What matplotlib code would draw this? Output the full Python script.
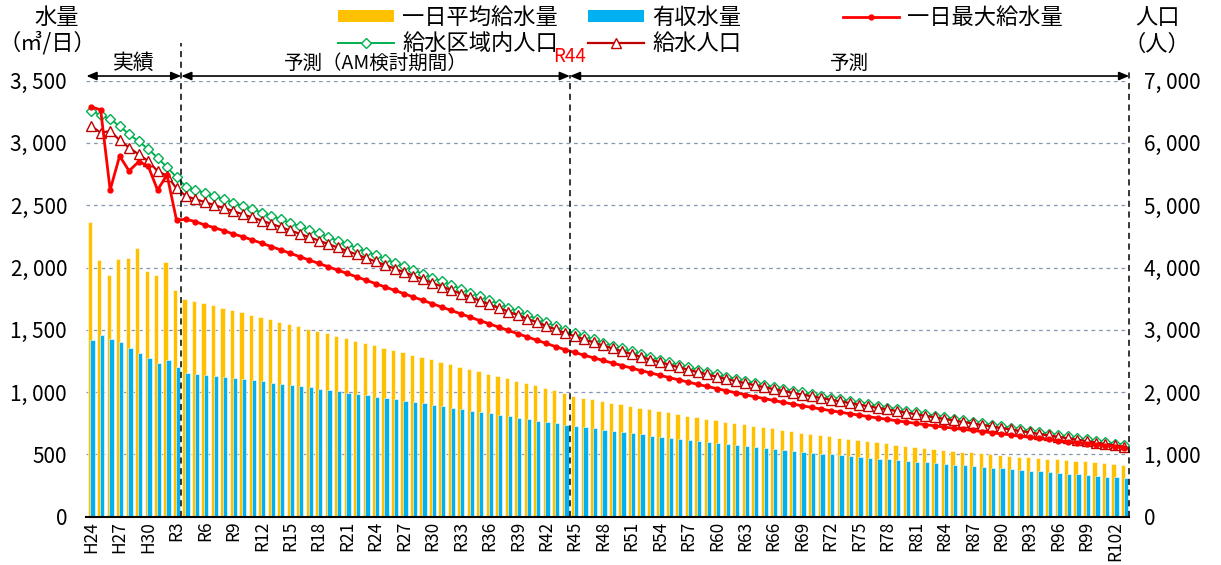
import numpy as np
import matplotlib.pyplot as plt
from matplotlib.lines import Line2D
from matplotlib.patches import Patch

plt.rcParams['font.family'] = ['Noto Sans CJK JP', 'DejaVu Sans']

# 年度 (H24〜R103)
years = ['H24', 'H25', 'H26', 'H27', 'H28', 'H29', 'H30'] + ['R%d' % n for n in range(1, 104)]

# 一日平均給水量 (m3/日)
avg_supply = [2368, 2063, 1940, 2071, 2074, 2159, 1974, 1940, 2044, 1820,
              1747, 1731, 1713, 1697, 1678, 1659, 1640, 1621, 1603, 1585,
              1566, 1547, 1528, 1509, 1490, 1471, 1452, 1433, 1414, 1395,
              1376, 1357, 1338, 1319, 1300, 1281, 1262, 1243, 1224, 1205,
              1186, 1167, 1148, 1129, 1110, 1091, 1072, 1053, 1034, 1015,
              996, 969, 955, 942, 929, 913, 901, 888, 875, 862,
              849, 837, 824, 812, 800, 788, 776, 764, 753, 741,
              730, 719, 708, 697, 686, 675, 665, 655, 645, 635,
              625, 615, 606, 597, 588, 579, 570, 562, 554, 546,
              538, 530, 523, 516, 509, 502, 495, 489, 483, 477,
              471, 465, 460, 454, 449, 443, 436, 428, 420, 412]

# 有収水量 (m3/日)
billed = [1416, 1458, 1426, 1402, 1354, 1316, 1271, 1231, 1255, 1199,
          1156, 1145, 1137, 1132, 1124, 1113, 1103, 1097, 1087, 1077,
          1067, 1057, 1047, 1037, 1027, 1017, 1007, 996, 986, 975,
          964, 953, 942, 931, 920, 909, 897, 886, 875, 864,
          852, 841, 829, 818, 806, 795, 783, 772, 760, 749,
          738, 728, 718, 708, 698, 688, 678, 669, 660, 651,
          642, 633, 624, 615, 606, 598, 590, 582, 574, 566,
          558, 550, 542, 535, 528, 521, 514, 507, 500, 493,
          486, 479, 472, 466, 460, 454, 448, 442, 436, 430,
          424, 418, 412, 406, 400, 394, 388, 382, 376, 370,
          364, 358, 352, 346, 340, 334, 328, 322, 316, 310]

# 一日最大給水量 (m3/日)
max_supply = [3290, 3265, 2622, 2895, 2775, 2849, 2817, 2622, 2743, 2381,
              2387, 2368, 2341, 2320, 2295, 2269, 2247, 2221, 2195, 2168,
              2141, 2114, 2087, 2060, 2033, 2006, 1979, 1952, 1925, 1898,
              1871, 1844, 1817, 1790, 1763, 1736, 1709, 1682, 1655, 1628,
              1601, 1574, 1548, 1521, 1495, 1469, 1443, 1417, 1391, 1365,
              1340, 1318, 1296, 1275, 1254, 1233, 1213, 1193, 1173, 1154,
              1135, 1116, 1098, 1080, 1062, 1045, 1028, 1011, 995, 979,
              963, 948, 933, 918, 904, 890, 877, 864, 851, 839,
              827, 815, 803, 792, 781, 770, 759, 749, 739, 729,
              719, 710, 701, 692, 683, 674, 665, 656, 647, 638,
              629, 620, 611, 603, 595, 587, 579, 571, 563, 555]

# 給水区域内人口 (人)
area_pop = [6516, 6447, 6383, 6270, 6140, 6025, 5905, 5760, 5610, 5450,
            5297, 5244, 5195, 5145, 5095, 5043, 4990, 4937, 4883, 4829,
            4774, 4718, 4662, 4605, 4548, 4490, 4432, 4374, 4315, 4256,
            4197, 4138, 4078, 4018, 3958, 3898, 3838, 3778, 3718, 3658,
            3598, 3538, 3478, 3418, 3358, 3298, 3238, 3178, 3118, 3058,
            2998, 2946, 2895, 2845, 2796, 2748, 2701, 2655, 2610, 2566,
            2523, 2481, 2440, 2400, 2361, 2323, 2286, 2250, 2215, 2181,
            2148, 2116, 2085, 2055, 2025, 1996, 1968, 1940, 1912, 1885,
            1858, 1831, 1804, 1778, 1752, 1726, 1700, 1674, 1649, 1624,
            1599, 1574, 1549, 1525, 1501, 1477, 1453, 1429, 1405, 1381,
            1357, 1334, 1311, 1288, 1265, 1242, 1219, 1196, 1173, 1150]

# 給水人口 (人)
served_pop = [6271, 6164, 6190, 6046, 5923, 5817, 5709, 5548, 5473, 5271,
              5147, 5096, 5050, 5002, 4955, 4905, 4855, 4804, 4753, 4701,
              4649, 4595, 4542, 4487, 4433, 4377, 4322, 4266, 4210, 4153,
              4097, 4040, 3983, 3925, 3868, 3810, 3753, 3695, 3638, 3580,
              3523, 3465, 3408, 3350, 3293, 3235, 3178, 3120, 3063, 3005,
              2948, 2897, 2846, 2797, 2749, 2701, 2655, 2610, 2565, 2522,
              2480, 2439, 2398, 2359, 2320, 2283, 2246, 2211, 2176, 2143,
              2110, 2079, 2048, 2019, 1989, 1961, 1933, 1905, 1878, 1851,
              1825, 1798, 1772, 1746, 1721, 1695, 1669, 1644, 1619, 1594,
              1570, 1545, 1520, 1496, 1472, 1448, 1424, 1400, 1376, 1352,
              1328, 1305, 1282, 1259, 1236, 1213, 1190, 1167, 1144, 1121]

YELLOW = '#FFC000'
BLUE = '#00B0F0'
RED = '#FF0000'
GREEN = '#00B050'
DARKRED = '#C00000'
GRID = '#8497B0'


def fmt(v):
    return '{:,}'.format(v).replace(',', ', ')


fig = plt.figure(figsize=(12.21, 5.65), dpi=100)
ax2 = fig.add_axes([0.0708, 0.0855, 0.8540, 0.7718])
ax = fig.add_axes([0.0708, 0.0855, 0.8540, 0.7718], sharex=ax2)
ax.patch.set_visible(False)

x = np.arange(len(years))
n = len(years)

# 人口 (右軸) - 下のレイヤー
ax2.set_ylim(0, 7000)
ax2.set_yticks(range(0, 7001, 1000))
ax2.grid(axis='y', color=GRID, linestyle=(0, (3, 3)), linewidth=0.9)
ax2.plot(x, area_pop, color=GREEN, lw=1.4, marker='D', ms=5.5,
         mfc='white', mec=GREEN, mew=1.0, zorder=3)
ax2.plot(x, served_pop, color=DARKRED, lw=1.6, marker='^', ms=7.5,
         mfc='white', mec=DARKRED, mew=1.0, zorder=4)
ax2.yaxis.tick_right()
ax2.set_yticklabels([fmt(v) for v in range(0, 7001, 1000)], fontsize=15)
ax2.tick_params(axis='y', length=0, pad=11)
ax2.tick_params(axis='x', length=0, labelbottom=False)
for s in ax2.spines.values():
    s.set_visible(False)

# 水量 (左軸)
ax.bar(x - 0.15, avg_supply, width=0.45, color=YELLOW, edgecolor='white',
       linewidth=0.4, zorder=2)
ax.bar(x + 0.15, billed, width=0.45, color=BLUE, edgecolor='white',
       linewidth=0.4, zorder=3)
ax.plot(x, max_supply, color=RED, lw=2.0, marker='o', ms=3.5, zorder=5)

ax.set_xlim(-0.5, n - 0.5)
ax.set_ylim(0, 3500)
ax.set_yticks(range(0, 3501, 500))
ax.set_yticklabels([fmt(v) for v in range(0, 3501, 500)], fontsize=15)
ax.tick_params(axis='y', length=0, pad=14)
ax.set_xticks(x[::3])
ax.set_xticklabels(years[::3], rotation=90, fontsize=12.5)
ax.tick_params(axis='x', length=0, pad=3)
for k in ['top', 'right', 'left']:
    ax.spines[k].set_visible(False)
ax.spines['bottom'].set_linewidth(1.5)
ax.spines['bottom'].set_zorder(6)

# 区切り線
ax.plot([9.5, 9.5], [0, 3800], color='black', ls=(0, (4, 3)), lw=1.1,
        clip_on=False, zorder=7)
ax.plot([50.5, 50.5], [0, 3545], color='black', ls=(0, (4, 3)), lw=1.1,
        clip_on=False, zorder=7)
ax.plot([n - 0.5, n - 0.5], [0, 3600], color='black', ls=(0, (4, 3)), lw=1.1,
        clip_on=False, zorder=7)

# 期間の矢印
arrow_y = 3537
for x0, x1 in [(-0.5, 9.5), (9.5, 50.5), (50.5, n - 0.5)]:
    ax.annotate('', xy=(x1, arrow_y), xytext=(x0, arrow_y),
                arrowprops=dict(arrowstyle='<|-|>,head_length=0.6,head_width=0.25',
                                color='black', lw=1.2, shrinkA=0, shrinkB=0),
                annotation_clip=False, zorder=8)
ax.text(4.5, 3640, '実績', ha='center', va='center', fontsize=15)
ax.text(30, 3640, '予測（AM検討期間）', ha='center', va='center', fontsize=14)
ax.text(50.5, 3690, 'R44', ha='center', va='center', fontsize=13.5, color=RED)
ax.text(80, 3640, '予測', ha='center', va='center', fontsize=14)

# 軸タイトル
fig.text(57 / 1221, 1 - 17 / 565, '水量', ha='center', va='center', fontsize=16)
fig.text(47 / 1221, 1 - 43 / 565, '（㎥/日）', ha='center', va='center', fontsize=16)
fig.text(1158 / 1221, 1 - 17 / 565, '人口', ha='center', va='center', fontsize=16)
fig.text(1157 / 1221, 1 - 44 / 565, '（人）', ha='center', va='center', fontsize=16)

# 凡例
leg_kw = dict(loc='upper left', frameon=False, fontsize=16, handlelength=2.5,
              handleheight=0.5, handletextpad=0.4, labelspacing=0.12,
              borderpad=0, borderaxespad=0)
h_avg = Patch(facecolor=YELLOW, edgecolor='none')
h_bil = Patch(facecolor=BLUE, edgecolor='none')
h_max = Line2D([], [], color=RED, lw=2.0, marker='o', ms=3.5)
h_area = Line2D([], [], color=GREEN, lw=1.4, marker='D', ms=5.5, mfc='white', mec=GREEN)
h_srv = Line2D([], [], color=DARKRED, lw=1.6, marker='^', ms=7.5, mfc='white', mec=DARKRED)
fig.legend([h_avg, h_area], ['一日平均給水量', '給水区域内人口'],
           bbox_to_anchor=(338 / 1221, 1 - 6 / 565), **leg_kw)
fig.legend([h_bil, h_srv], ['有収水量', '給水人口'],
           bbox_to_anchor=(588 / 1221, 1 - 6 / 565), **leg_kw)
fig.legend([h_max], ['一日最大給水量'],
           bbox_to_anchor=(843 / 1221, 1 - 6 / 565), **leg_kw)

fig.savefig('out.png', dpi=100)
